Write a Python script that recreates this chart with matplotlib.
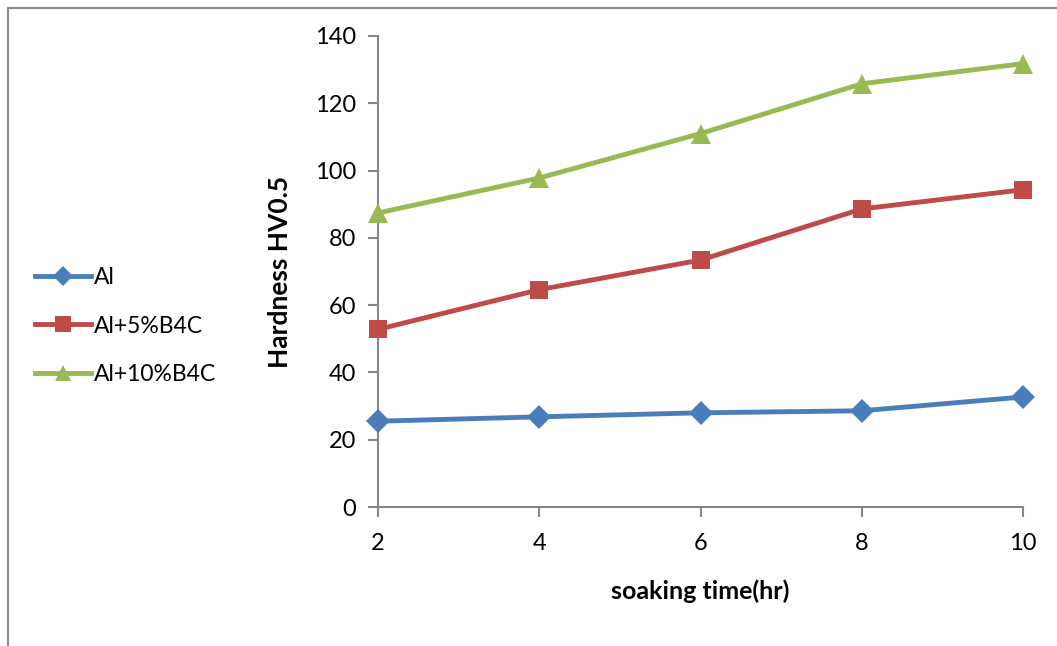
import matplotlib.pyplot as plt
from matplotlib.patches import Rectangle

plt.rcParams['font.family'] = ['Lato', 'DejaVu Sans']

soak_time = [2, 4, 6, 8, 10]
al = [25.5, 26.8, 28.0, 28.6, 32.7]
al_5b4c = [52.8, 64.6, 73.4, 88.6, 94.3]
al_10b4c = [87.4, 97.8, 111.0, 125.8, 131.8]
series_names = ['Al', 'Al+5%B4C', 'Al+10%B4C']
y_ticks = [0, 20, 40, 60, 80, 100, 120, 140]

colors = ['#4a7ebb', '#be4b48', '#98b954']
markers = ['D', 's', '^']
msizes = [12, 13, 14]

fig = plt.figure(figsize=(10.57, 6.46), dpi=100)
fig.patches.append(Rectangle((8 / 1057, -0.1), 1.2, 1 - 8 / 646 + 0.1,
                             transform=fig.transFigure, fill=False,
                             edgecolor='#8c8c8c', linewidth=1.5))

ax = fig.add_axes([378 / 1057, 1 - 507 / 646, 645 / 1057, 471 / 646])
handles = []
for vals, name, c, m, ms in zip([al, al_5b4c, al_10b4c], series_names, colors, markers, msizes):
    h, = ax.plot(soak_time, vals, color=c, marker=m, markersize=ms, linewidth=3.5,
                 markeredgewidth=0, label=name, clip_on=False, zorder=3)
    handles.append(h)

ax.set_xlim(2, 10)
ax.set_ylim(0, 140)
ax.set_xticks(soak_time)
ax.set_yticks(y_ticks)
for s in ['top', 'right']:
    ax.spines[s].set_visible(False)
for s in ['left', 'bottom']:
    ax.spines[s].set_color('#868686')
    ax.spines[s].set_linewidth(1.5)
ax.tick_params(colors='#868686', width=1.5, length=7, labelcolor='black', labelsize=17)
ax.tick_params(axis='x', pad=12)
ax.tick_params(axis='y', pad=9)
ax.set_xlabel('soaking time(hr)', fontsize=18, fontweight='bold', labelpad=18)
ax.set_ylabel('Hardness HV0.5', fontsize=19, fontweight='bold', labelpad=16)

fig.legend(handles=handles, loc='center left', bbox_to_anchor=(35 / 1057, 1 - 326 / 646),
           frameon=False, fontsize=16.5, handlelength=2.45, handletextpad=0.1,
           labelspacing=1.2, borderpad=0, borderaxespad=0, markerscale=0.85)

fig.savefig('out.png', dpi=100)
